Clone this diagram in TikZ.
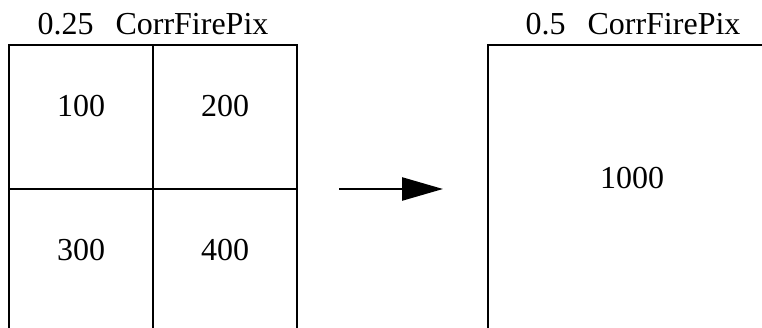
\documentclass[tikz,border=0pt]{standalone}
\usepackage{fontspec}
\setmainfont{Liberation Serif}
\usetikzlibrary{arrows.meta}
\begin{document}
\begin{tikzpicture}[x=1pt,y=1pt,
  cell/.style={draw=black, line width=1.3pt, minimum width=144pt, minimum height=144pt, inner sep=0pt, outer sep=0pt, anchor=north west},
  bigcell/.style={draw=black, line width=1.3pt, minimum width=288pt, minimum height=288pt, inner sep=0pt, outer sep=0pt, anchor=north west},
  lbl/.style={font=\fontsize{32}{38}\selectfont, inner sep=0pt, anchor=base},
  flow/.style={line width=2.5pt, -{Triangle[length=41pt,width=23pt]}}]
\useasboundingbox (0,0) rectangle (762,-328);
\clip (0,0) rectangle (762,-328);
% left grid
\node[cell] (c11) at (9,-45) {};
\node[cell] (c12) at (153,-45) {};
\node[cell] (c21) at (9,-189) {};
\node[cell] (c22) at (153,-189) {};
\node[lbl] (t11) at (c11.center) {100};
\node[lbl] (t12) at (c12.center) {200};
\node[lbl] (t21) at (c21.center) {300};
\node[lbl] (t22) at (c22.center) {400};
\node[lbl] (titleL) at (153,-35) {0.25\hspace{22pt}CorrFirePix};
% right box
\node[bigcell] (big) at (488,-45) {};
\node[lbl] (tbig) at (big.center) {1000};
\node[lbl] (titleR) at (633,-35) {0.5\hspace{22pt}CorrFirePix};
% arrow
\coordinate (as) at (339,-189);
\coordinate (ae) at (443,-189);
\draw[flow] (as) -- (ae);
\end{tikzpicture}
\end{document}
